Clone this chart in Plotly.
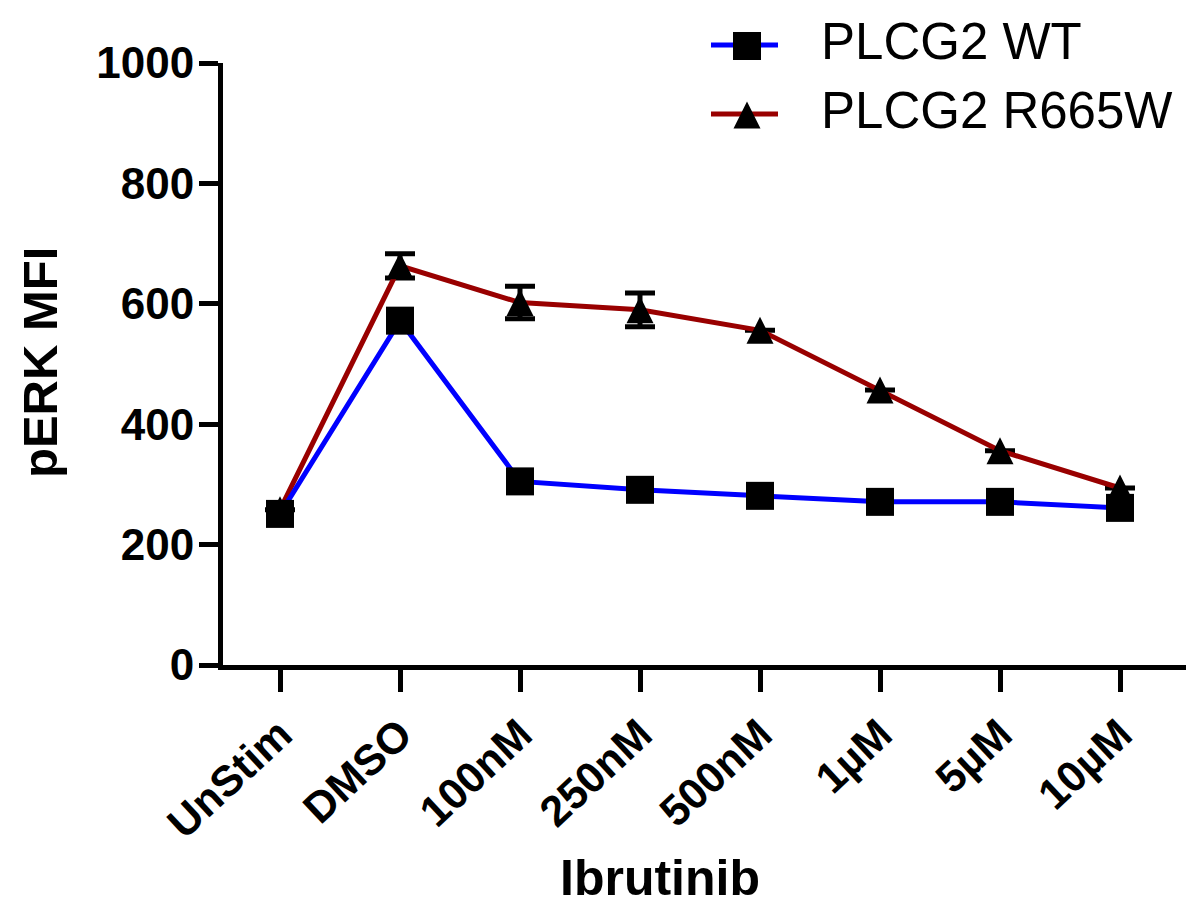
import plotly.graph_objects as go

# ---- data ----
categories = ["UnStim", "DMSO", "100nM", "250nM", "500nM", "1µM", "5µM", "10µM"]
wt_values = [251, 572, 305, 291, 281, 271, 271, 261]
r665w_values = [258, 663, 602, 590, 556, 457, 356, 294]
r665w_err = [None, 20, 27, 28, None, None, None, None]
y_ticks = [0, 200, 400, 600, 800, 1000]
series_names = ["PLCG2 WT", "PLCG2 R665W"]

# ---- layout geometry ----
W, H = 1186, 907
L, R, T, B = 223, 0, 63, 242
plot_w = W - L - R
plot_h = H - T - B
BLUE = "#0000FF"
RED = "#990000"
FONT = "Liberation Sans, Arial, sans-serif"
TRI = 27      # triangle size in px
SQ = 28       # square size in px
px_per_unit = plot_h / 1000.0
tri_shift = (TRI / 2) / px_per_unit   # centre arrow-up triangle on the point


def pxx(px):
    return (px - L) / plot_w


def pxy(py):
    return (H - B - py) / plot_h


fig = go.Figure()

# lines (R665W with error bars, then WT)
fig.add_trace(go.Scatter(
    x=categories, y=r665w_values, mode="lines", name=series_names[1],
    line=dict(color=RED, width=5),
    error_y=dict(type="data", array=r665w_err, visible=True,
                 color="black", thickness=5, width=15),
    showlegend=False, hoverinfo="skip"))
fig.add_trace(go.Scatter(
    x=categories, y=wt_values, mode="lines", name=series_names[0],
    line=dict(color=BLUE, width=5),
    showlegend=False, hoverinfo="skip"))
# WT squares
fig.add_trace(go.Scatter(
    x=categories, y=wt_values, mode="markers", name=series_names[0],
    marker=dict(symbol="square", size=SQ, color="black", line=dict(width=0)),
    showlegend=False))
# R665W triangles (on an overlay axis shifted so the triangle is centred)
fig.add_trace(go.Scatter(
    x=categories, y=r665w_values, mode="markers", yaxis="y3", name=series_names[1],
    marker=dict(symbol="arrow-up", size=TRI, color="black", line=dict(width=0)),
    showlegend=False, cliponaxis=False))

# ---- manual legend (shapes + text) ----
leg_x0, leg_x1, leg_xm = 711, 778, 747
row_wt, row_mut = 45, 114
shapes = [
    dict(type="line", xref="paper", yref="paper",
         x0=pxx(leg_x0), x1=pxx(leg_x1), y0=pxy(row_wt), y1=pxy(row_wt),
         line=dict(color=BLUE, width=5)),
    dict(type="rect", xref="paper", yref="paper",
         x0=pxx(leg_xm - SQ / 2), x1=pxx(leg_xm + SQ / 2),
         y0=pxy(row_wt + 1 - SQ / 2), y1=pxy(row_wt + 1 + SQ / 2),
         fillcolor="black", line=dict(width=0)),
    dict(type="line", xref="paper", yref="paper",
         x0=pxx(leg_x0), x1=pxx(leg_x1), y0=pxy(row_mut), y1=pxy(row_mut),
         line=dict(color=RED, width=5)),
    dict(type="path", xref="paper", yref="paper",
         path="M {:.5f},{:.5f} L {:.5f},{:.5f} L {:.5f},{:.5f} Z".format(
             pxx(leg_xm), pxy(row_mut + 1 - TRI / 2),
             pxx(leg_xm - TRI / 2), pxy(row_mut + 1 + TRI / 2),
             pxx(leg_xm + TRI / 2), pxy(row_mut + 1 + TRI / 2)),
         fillcolor="black", line=dict(width=0)),
]

annotations = [
    dict(text=series_names[0], x=pxx(820), y=pxy(42),
         xref="paper", yref="paper", xanchor="left", yanchor="middle",
         showarrow=False, borderpad=0,
         font=dict(family=FONT, size=51, color="black")),
    dict(text=series_names[1], x=pxx(820), y=pxy(110),
         xref="paper", yref="paper", xanchor="left", yanchor="middle",
         showarrow=False, borderpad=0,
         font=dict(family=FONT, size=51, color="black")),
    dict(text="pERK MFI", textangle=-90, x=pxx(40), y=pxy(363),
         xref="paper", yref="paper", xanchor="center", yanchor="middle",
         showarrow=False, borderpad=0,
         font=dict(family=FONT, size=49, color="black", weight="bold")),
    dict(text="Ibrutinib", x=pxx(660), y=pxy(907),
         xref="paper", yref="paper", xanchor="center", yanchor="bottom",
         showarrow=False, borderpad=0,
         font=dict(family=FONT, size=50, color="black", weight="bold")),
]

fig.update_layout(
    width=W, height=H,
    margin=dict(l=L, r=R, t=T, b=B, pad=0),
    paper_bgcolor="white", plot_bgcolor="white",
    showlegend=False,
    shapes=shapes,
    annotations=annotations,
    xaxis=dict(
        type="category", categoryorder="array", categoryarray=categories,
        range=[-0.475, 7.55], showgrid=False, zeroline=False,
        showline=True, linecolor="black", linewidth=5,
        ticks="outside", ticklen=22, tickwidth=5, tickcolor="black",
        tickangle=-43,
        tickfont=dict(family=FONT, size=43, color="black", weight="bold"),
    ),
    yaxis=dict(
        range=[0, 1000], tickvals=y_ticks, ticktext=[str(v) for v in y_ticks],
        showgrid=False, zeroline=False,
        showline=True, linecolor="black", linewidth=5,
        ticks="outside", ticklen=19, tickwidth=5, tickcolor="black",
        ticklabelstandoff=-4,
        tickfont=dict(family=FONT, size=44, color="black", weight="bold"),
    ),
    yaxis3=dict(range=[-tri_shift, 1000 - tri_shift], overlaying="y",
                visible=False, showgrid=False, zeroline=False),
)

fig.write_html("out.html")
